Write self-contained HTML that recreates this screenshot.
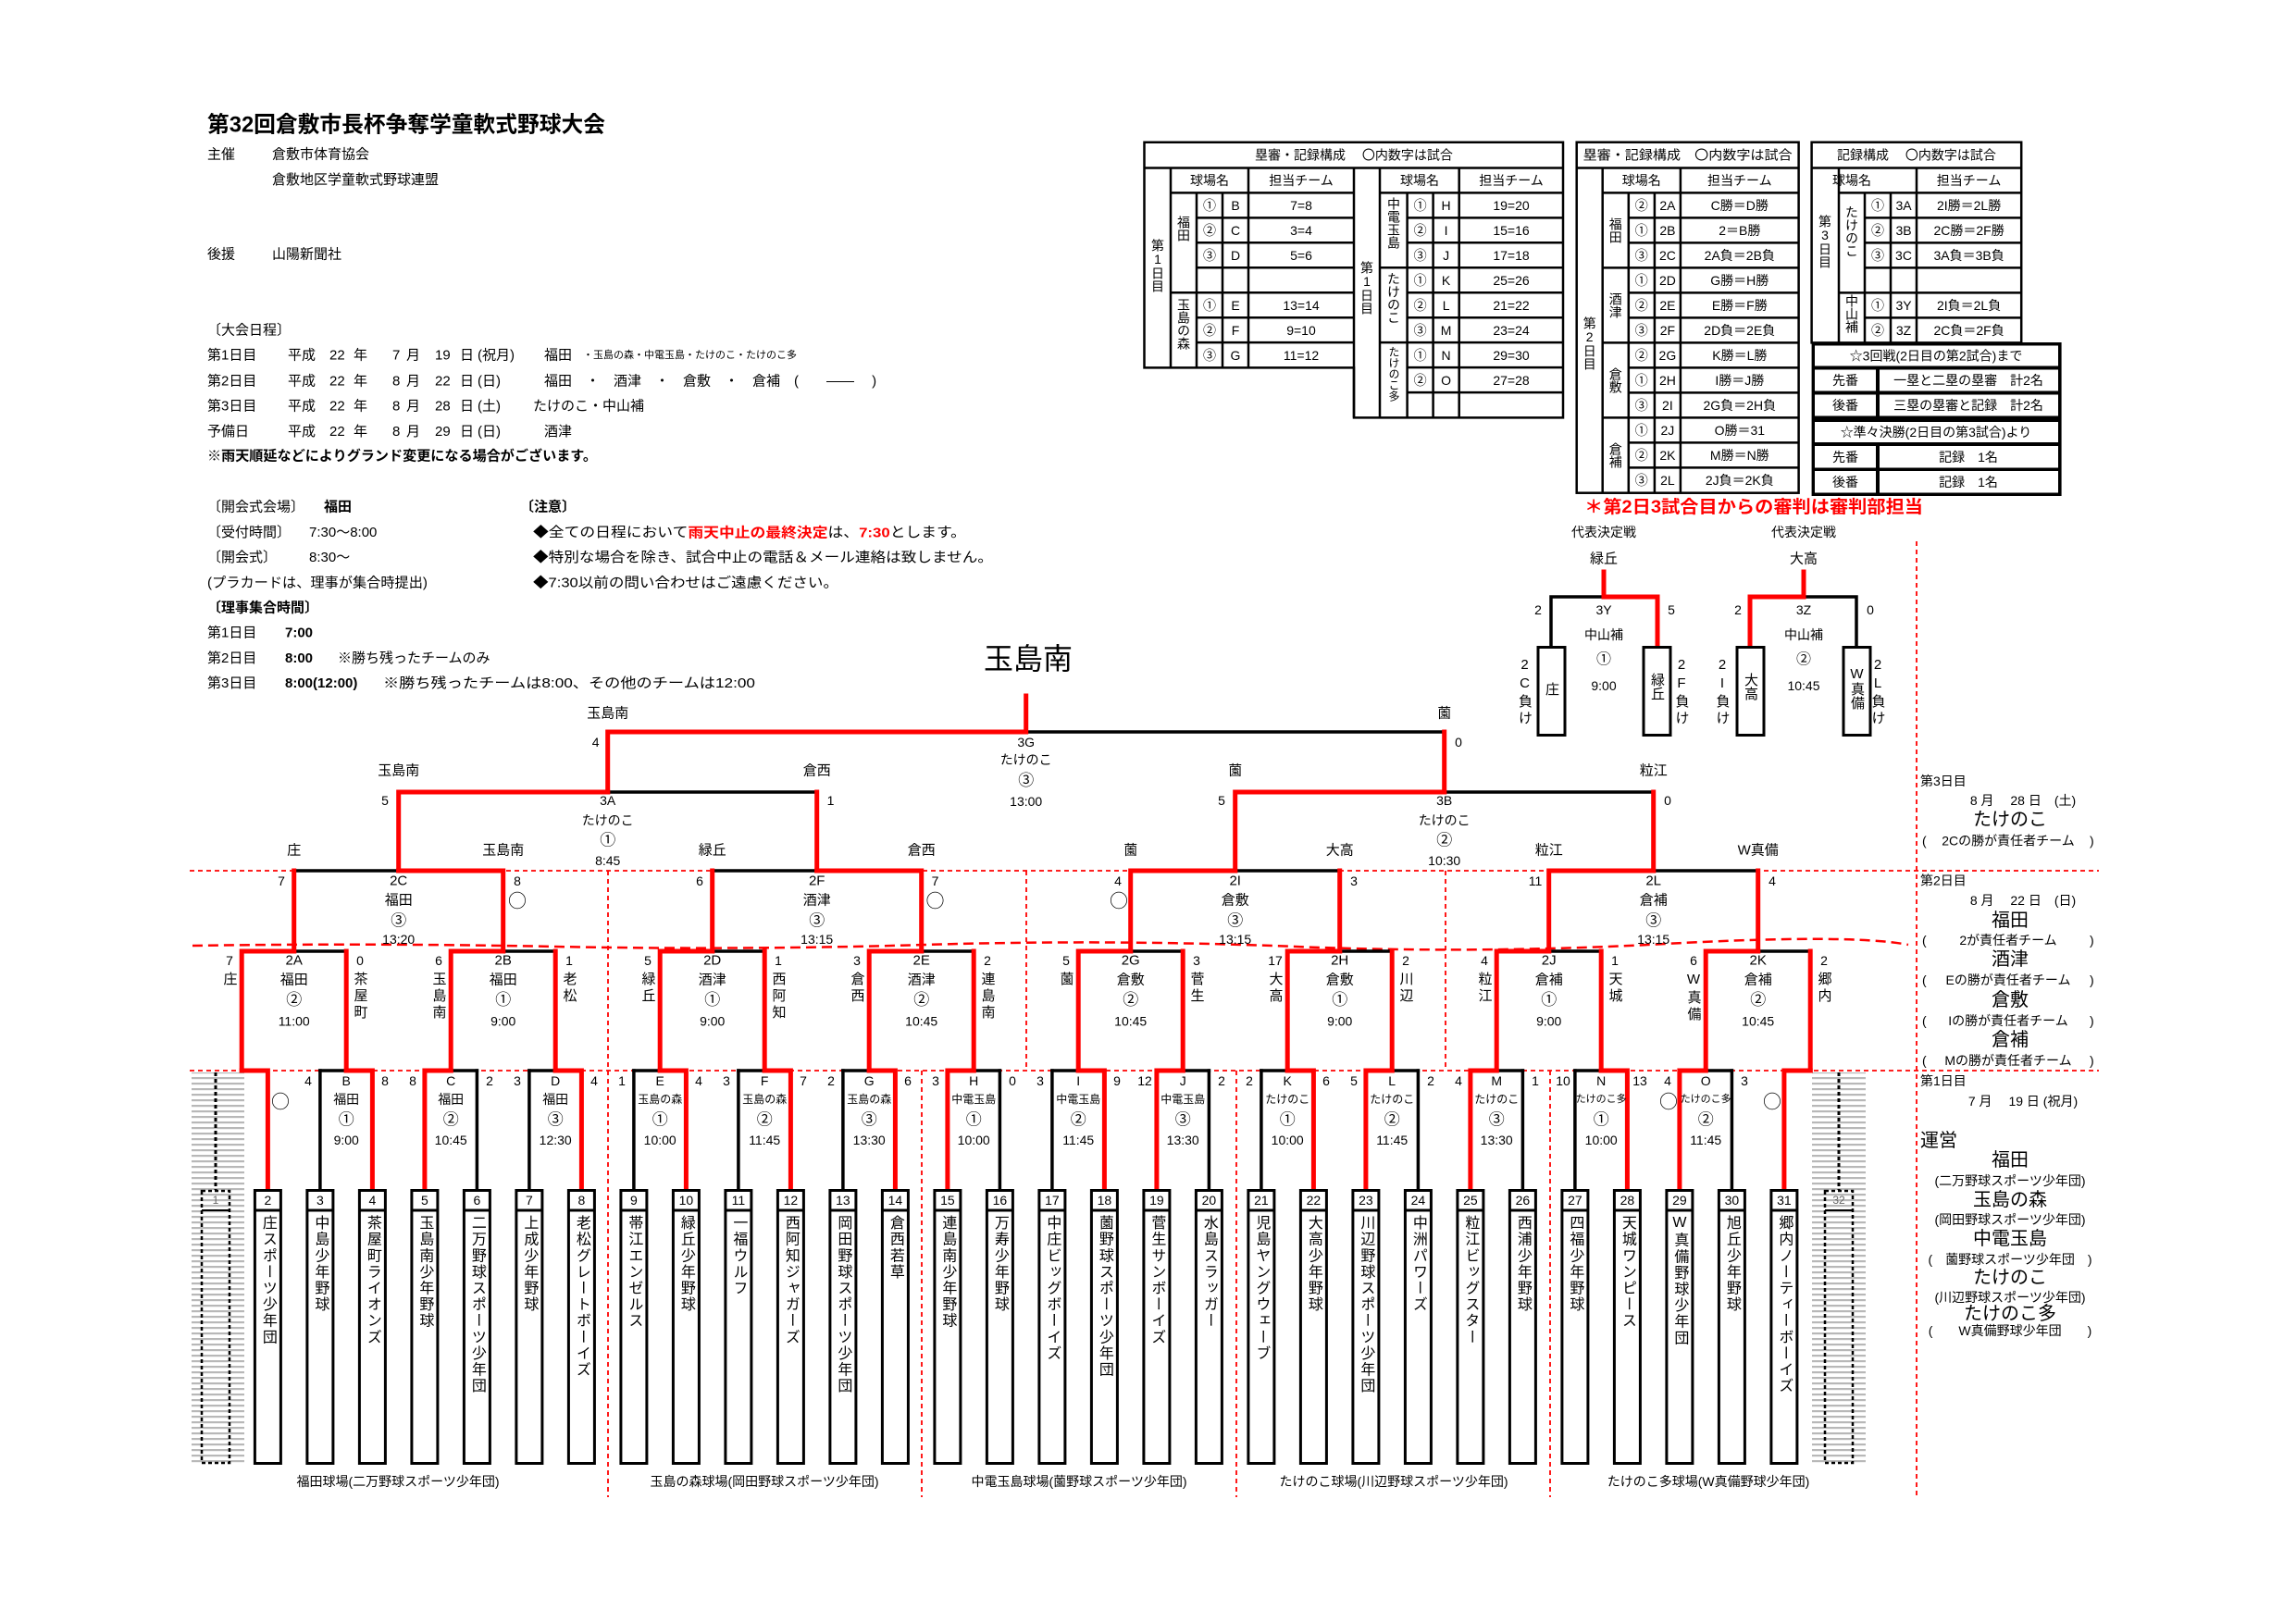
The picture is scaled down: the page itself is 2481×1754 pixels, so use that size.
<!DOCTYPE html>
<html><head><meta charset="utf-8">
<style>
html,body{margin:0;padding:0;background:#fff}
svg{display:block}
text{font-family:"Liberation Sans","Noto Sans CJK JP",sans-serif;fill:#000;dominant-baseline:central}
.c{text-anchor:middle}
.v{writing-mode:vertical-rl;text-orientation:upright}
.o{font-family:"Noto Sans CJK JP",sans-serif}
.bk{stroke:#000;stroke-width:3.5;fill:none;stroke-linecap:square}
.rd{stroke:#f00;stroke-width:5;fill:none;stroke-linecap:square}
.ds{stroke:#f00;stroke-width:1.8;fill:none;stroke-dasharray:5 4}
.tb{stroke:#000;stroke-width:2.5;fill:none}
.bx{stroke:#000;stroke-width:3;fill:#fff}
</style></head><body>
<svg width="2481" height="1754" viewBox="0 0 2481 1754" xmlns="http://www.w3.org/2000/svg">
<defs>
<pattern id="gs" width="8" height="6" patternUnits="userSpaceOnUse"><rect x="0" y="0" width="8" height="2.2" fill="#b8b8b8"/></pattern>
</defs>
<rect width="2481" height="1754" fill="#fff"/>

<!-- Header -->
<text x="224" y="135" font-size="24" font-weight="bold" textLength="430" lengthAdjust="spacingAndGlyphs">第32回倉敷市長杯争奪学童軟式野球大会</text>
<g font-size="15">
<text x="224" y="167">主催</text><text x="294" y="167">倉敷市体育協会</text>
<text x="294" y="194.5">倉敷地区学童軟式野球連盟</text>
<text x="224" y="275">後援</text><text x="294" y="275">山陽新聞社</text>
<text x="224" y="357">〔大会日程〕</text>
<text x="224" y="384">第1日目</text><text x="224" y="412">第2日目</text><text x="224" y="439">第3日目</text><text x="224" y="466.5">予備日</text>
<text x="311" y="384">平成</text><text x="311" y="412">平成</text><text x="311" y="439">平成</text><text x="311" y="466.5">平成</text>
<text x="356" y="384">22</text><text x="356" y="412">22</text><text x="356" y="439">22</text><text x="356" y="466.5">22</text>
<text x="382" y="384">年</text><text x="382" y="412">年</text><text x="382" y="439">年</text><text x="382" y="466.5">年</text>
<text x="424" y="384">7</text><text x="424" y="412">8</text><text x="424" y="439">8</text><text x="424" y="466.5">8</text>
<text x="439" y="384">月</text><text x="439" y="412">月</text><text x="439" y="439">月</text><text x="439" y="466.5">月</text>
<text x="470" y="384">19</text><text x="470" y="412">22</text><text x="470" y="439">28</text><text x="470" y="466.5">29</text>
<text x="497" y="384">日</text><text x="497" y="412">日</text><text x="497" y="439">日</text><text x="497" y="466.5">日</text>
<text x="516" y="384">(祝月)</text><text x="516" y="412">(日)</text><text x="516" y="439">(土)</text><text x="516" y="466.5">(日)</text>
<text x="588" y="384">福田</text><text x="630" y="384" font-size="11">・玉島の森・中電玉島・たけのこ・たけのこ多</text>
<text x="588" y="412">福田　・　酒津　・　倉敷　・　倉補　(　　――　 )</text>
<text x="576" y="439">たけのこ・中山補</text>
<text x="588" y="466.5">酒津</text>
<text x="224" y="493" font-weight="bold" textLength="421" lengthAdjust="spacingAndGlyphs">※雨天順延などによりグランド変更になる場合がございます。</text>
<text x="224" y="548">〔開会式会場〕</text><text x="350" y="548" font-weight="bold">福田</text>
<text x="562" y="548" font-weight="bold">〔注意〕</text>
<text x="224" y="575.5">〔受付時間〕</text><text x="334" y="575.5">7:30〜8:00</text>
<text x="224" y="602.5">〔開会式〕</text><text x="334" y="602.5">8:30〜</text>
<text x="224" y="630" textLength="238" lengthAdjust="spacingAndGlyphs">(プラカードは、理事が集合時提出)</text>
<text x="576" y="575.5" textLength="468" lengthAdjust="spacingAndGlyphs">◆全ての日程において<tspan fill="#f00" font-weight="bold">雨天中止の最終決定</tspan>は、<tspan fill="#f00" font-weight="bold">7:30</tspan>とします。</text>
<text x="576" y="602.5" textLength="497" lengthAdjust="spacingAndGlyphs">◆特別な場合を除き、試合中止の電話＆メール連絡は致しません。</text>
<text x="576" y="630" textLength="330" lengthAdjust="spacingAndGlyphs">◆7:30以前の問い合わせはご遠慮ください。</text>
<text x="224" y="657" font-weight="bold">〔理事集合時間〕</text>
<text x="224" y="684">第1日目</text><text x="308" y="684" font-weight="bold">7:00</text>
<text x="224" y="711.5">第2日目</text><text x="308" y="711.5" font-weight="bold">8:00</text><text x="365" y="711.5">※勝ち残ったチームのみ</text>
<text x="224" y="738.5">第3日目</text><text x="308" y="738.5" font-weight="bold">8:00(12:00)</text><text x="414" y="738.5" textLength="402" lengthAdjust="spacingAndGlyphs">※勝ち残ったチームは8:00、その他のチームは12:00</text>
</g>

<!-- Table 1 -->
<g class="tb">
<path d="M1236.5 153.7H1689V451.4H1463V397.4H1236.5Z"/>
<path d="M1236.5 181.5H1689"/>
<path d="M1265 208.4H1463M1491 208.4H1689"/>
<path d="M1265 181.5V397.4M1293 208.4V397.4M1321 208.4V397.4M1349 181.5V397.4M1463 181.5V451.4"/>
<path d="M1491 181.5V451.4M1520.6 208.4V451.4M1548.6 208.4V451.4M1576.7 181.5V451.4"/>
<path d="M1293 235.4H1463M1293 262.3H1463M1293 289.3H1463M1265 316.2H1463M1293 343.2H1463M1293 370.1H1463"/>
<path d="M1520.6 235.4H1689M1520.6 262.3H1689M1491 289.3H1689M1520.6 316.2H1689M1520.6 343.2H1689M1491 370.1H1689M1520.6 397.1H1689M1520.6 424.1H1689"/>
</g>
<g font-size="14">
<text class="c" x="1463" y="167.6">塁審・記録構成　 〇内数字は試合</text>
<text class="c" x="1307" y="195">球場名</text><text class="c" x="1406" y="195">担当チーム</text>
<text class="c" x="1534" y="195">球場名</text><text class="c" x="1633" y="195">担当チーム</text>
<text class="v" x="1251" y="258">第1日目</text>
<text class="v" x="1477" y="282">第1日目</text>
<text class="v" x="1279" y="233">福田</text>
<text class="v" x="1279" y="322">玉島の森</text>
<text class="v" x="1506" y="213">中電玉島</text>
<text class="v" x="1506" y="294">たけのこ</text>
<text class="v" x="1506" y="374" font-size="12">たけのこ多</text>
<text class="c" x="1307" y="222">①</text><text class="c" x="1335" y="222">B</text><text class="c" x="1406" y="222">7=8</text>
<text class="c" x="1307" y="249">②</text><text class="c" x="1335" y="249">C</text><text class="c" x="1406" y="249">3=4</text>
<text class="c" x="1307" y="276">③</text><text class="c" x="1335" y="276">D</text><text class="c" x="1406" y="276">5=6</text>
<text class="c" x="1307" y="330">①</text><text class="c" x="1335" y="330">E</text><text class="c" x="1406" y="330">13=14</text>
<text class="c" x="1307" y="357">②</text><text class="c" x="1335" y="357">F</text><text class="c" x="1406" y="357">9=10</text>
<text class="c" x="1307" y="384">③</text><text class="c" x="1335" y="384">G</text><text class="c" x="1406" y="384">11=12</text>
<text class="c" x="1534.6" y="222">①</text><text class="c" x="1562.6" y="222">H</text><text class="c" x="1633" y="222">19=20</text>
<text class="c" x="1534.6" y="249">②</text><text class="c" x="1562.6" y="249">I</text><text class="c" x="1633" y="249">15=16</text>
<text class="c" x="1534.6" y="276">③</text><text class="c" x="1562.6" y="276">J</text><text class="c" x="1633" y="276">17=18</text>
<text class="c" x="1534.6" y="303">①</text><text class="c" x="1562.6" y="303">K</text><text class="c" x="1633" y="303">25=26</text>
<text class="c" x="1534.6" y="330">②</text><text class="c" x="1562.6" y="330">L</text><text class="c" x="1633" y="330">21=22</text>
<text class="c" x="1534.6" y="357">③</text><text class="c" x="1562.6" y="357">M</text><text class="c" x="1633" y="357">23=24</text>
<text class="c" x="1534.6" y="384">①</text><text class="c" x="1562.6" y="384">N</text><text class="c" x="1633" y="384">29=30</text>
<text class="c" x="1534.6" y="411">②</text><text class="c" x="1562.6" y="411">O</text><text class="c" x="1633" y="411">27=28</text>
</g>

<!-- Table 2 -->
<g class="tb">
<rect x="1703.7" y="153.7" width="239.9" height="379"/>
<path d="M1703.7 181.5H1943.6M1731.7 208.4H1943.6"/>
<path d="M1731.7 181.5V532.7M1759.8 208.4V532.7M1787.9 208.4V532.7M1815.9 181.5V532.7"/>
<path d="M1759.8 235.4H1943.6M1759.8 262.4H1943.6M1731.7 289.4H1943.6M1759.8 316.4H1943.6M1759.8 343.4H1943.6M1731.7 370.4H1943.6M1759.8 397.4H1943.6M1759.8 424.4H1943.6M1731.7 451.4H1943.6M1759.8 478.4H1943.6M1759.8 505.4H1943.6"/>
</g>
<g font-size="14">
<text class="c" x="1823.6" y="167.6" textLength="226" lengthAdjust="spacingAndGlyphs">塁審・記録構成　〇内数字は試合</text>
<text class="c" x="1773.8" y="195">球場名</text><text class="c" x="1879.8" y="195">担当チーム</text>
<text class="v" x="1717.7" y="342">第2日目</text>
<text class="v" x="1745.7" y="235">福田</text>
<text class="v" x="1745.7" y="316">酒津</text>
<text class="v" x="1745.7" y="397">倉敷</text>
<text class="v" x="1745.7" y="478">倉補</text>
<text class="c" x="1773.8" y="222">②</text><text class="c" x="1801.9" y="222">2A</text><text class="c" x="1879.8" y="222">C勝＝D勝</text>
<text class="c" x="1773.8" y="249">①</text><text class="c" x="1801.9" y="249">2B</text><text class="c" x="1879.8" y="249">2＝B勝</text>
<text class="c" x="1773.8" y="276">③</text><text class="c" x="1801.9" y="276">2C</text><text class="c" x="1879.8" y="276">2A負＝2B負</text>
<text class="c" x="1773.8" y="303">①</text><text class="c" x="1801.9" y="303">2D</text><text class="c" x="1879.8" y="303">G勝＝H勝</text>
<text class="c" x="1773.8" y="330">②</text><text class="c" x="1801.9" y="330">2E</text><text class="c" x="1879.8" y="330">E勝＝F勝</text>
<text class="c" x="1773.8" y="357">③</text><text class="c" x="1801.9" y="357">2F</text><text class="c" x="1879.8" y="357">2D負＝2E負</text>
<text class="c" x="1773.8" y="384">②</text><text class="c" x="1801.9" y="384">2G</text><text class="c" x="1879.8" y="384">K勝＝L勝</text>
<text class="c" x="1773.8" y="411">①</text><text class="c" x="1801.9" y="411">2H</text><text class="c" x="1879.8" y="411">I勝＝J勝</text>
<text class="c" x="1773.8" y="438">③</text><text class="c" x="1801.9" y="438">2I</text><text class="c" x="1879.8" y="438">2G負＝2H負</text>
<text class="c" x="1773.8" y="465">①</text><text class="c" x="1801.9" y="465">2J</text><text class="c" x="1879.8" y="465">O勝＝31</text>
<text class="c" x="1773.8" y="492">②</text><text class="c" x="1801.9" y="492">2K</text><text class="c" x="1879.8" y="492">M勝＝N勝</text>
<text class="c" x="1773.8" y="519">③</text><text class="c" x="1801.9" y="519">2L</text><text class="c" x="1879.8" y="519">2J負＝2K負</text>
</g>

<!-- Table 3 -->
<g class="tb">
<rect x="1957.6" y="153.7" width="226.6" height="216.7"/>
<path d="M1957.6 181.5H2184.2M1987 208.4H2184.2"/>
<path d="M1987 181.5V370.4M2015 208.4V370.4M2043 208.4V370.4M2071 181.5V370.4"/>
<path d="M2015 235.4H2184.2M2015 262.4H2184.2M2015 289.4H2184.2M1987 316.4H2184.2M2015 343.4H2184.2"/>
</g>
<g font-size="14">
<text class="c" x="2071" y="167.6">記録構成　 〇内数字は試合</text>
<text class="c" x="2001" y="195">球場名</text><text class="c" x="2127.6" y="195">担当チーム</text>
<text class="v" x="1972" y="232">第3日目</text>
<text class="v" x="2001" y="222">たけのこ</text>
<text class="v" x="2001" y="318">中山補</text>
<text class="c" x="2029" y="222">①</text><text class="c" x="2057" y="222">3A</text><text class="c" x="2127.6" y="222">2I勝＝2L勝</text>
<text class="c" x="2029" y="249">②</text><text class="c" x="2057" y="249">3B</text><text class="c" x="2127.6" y="249">2C勝＝2F勝</text>
<text class="c" x="2029" y="276">③</text><text class="c" x="2057" y="276">3C</text><text class="c" x="2127.6" y="276">3A負＝3B負</text>
<text class="c" x="2029" y="330">①</text><text class="c" x="2057" y="330">3Y</text><text class="c" x="2127.6" y="330">2I負＝2L負</text>
<text class="c" x="2029" y="357">②</text><text class="c" x="2057" y="357">3Z</text><text class="c" x="2127.6" y="357">2C負＝2F負</text>
</g>

<!-- Box 4 -->
<rect x="1957.6" y="370" width="270" height="166" fill="#000"/>
<g fill="#fff">
<rect x="1961" y="373.5" width="263" height="22"/>
<rect x="1961" y="399.5" width="66" height="23"/><rect x="2031" y="399.5" width="193" height="23"/>
<rect x="1961" y="426.5" width="66" height="23"/><rect x="2031" y="426.5" width="193" height="23"/>
<rect x="1961" y="456" width="263" height="22"/>
<rect x="1961" y="482" width="66" height="23.5"/><rect x="2031" y="482" width="193" height="23.5"/>
<rect x="1961" y="509" width="66" height="23.5"/><rect x="2031" y="509" width="193" height="23.5"/>
</g>
<g font-size="14">
<text class="c" x="2092" y="384.5">☆3回戦(2日目の第2試合)まで</text>
<text class="c" x="1994" y="411">先番</text><text class="c" x="2127" y="411">一塁と二塁の塁審　計2名</text>
<text class="c" x="1994" y="438">後番</text><text class="c" x="2127" y="438">三塁の塁審と記録　計2名</text>
<text class="c" x="2092" y="467">☆準々決勝(2日目の第3試合)より</text>
<text class="c" x="1994" y="494">先番</text><text class="c" x="2127" y="494">記録　1名</text>
<text class="c" x="1994" y="521">後番</text><text class="c" x="2127" y="521">記録　1名</text>
</g>
<text x="1712" y="548.5" font-size="19" font-weight="bold" style="fill:#f00" textLength="366" lengthAdjust="spacingAndGlyphs">＊第2日3試合目からの審判は審判部担当</text>

<!-- 3Y / 3Z -->
<g font-size="14">
<text class="c" x="1733" y="575">代表決定戦</text><text class="c" x="1949" y="575">代表決定戦</text>
<text class="c" x="1733" y="604" font-size="15">緑丘</text><text class="c" x="1949" y="604" font-size="15">大高</text>
</g>
<path class="bk" d="M1676 699V645H1791V699"/>
<path class="rd" d="M1733 618V645H1791V699"/>
<path class="bk" d="M1891 699V645H2006V699"/>
<path class="rd" d="M1949 618V645H1891V699"/>
<rect class="bx" x="1662" y="699.5" width="29" height="95"/>
<rect class="bx" x="1776" y="699.5" width="29" height="95"/>
<rect class="bx" x="1877" y="699.5" width="29" height="95"/>
<rect class="bx" x="1992" y="699.5" width="29" height="95"/>
<g font-size="14">
<text class="c" x="1662" y="659">2</text><text class="c" x="1806" y="659">5</text>
<text class="c" x="1878" y="659">2</text><text class="c" x="2021" y="659">0</text>
<text class="c" x="1733" y="659">3Y</text><text class="c" x="1733" y="686">中山補</text><text class="c" x="1733" y="713" font-size="16">①</text><text class="c" x="1733" y="741">9:00</text>
<text class="c" x="1949" y="659">3Z</text><text class="c" x="1949" y="686">中山補</text><text class="c" x="1949" y="713" font-size="16">②</text><text class="c" x="1949" y="741">10:45</text>
</g>
<g font-size="15">
<text class="v" x="1676.5" y="737">庄</text>
<text class="v" x="1790.5" y="727">緑丘</text>
<text class="v" x="1891.5" y="727">大高</text>
<text class="v" x="2006.5" y="720">W真備</text>
<text class="v" x="1647.5" y="710" letter-spacing="3">2C負け</text>
<text class="v" x="1817" y="710" letter-spacing="3">2F負け</text>
<text class="v" x="1861" y="710" letter-spacing="3">2I負け</text>
<text class="v" x="2029" y="710" letter-spacing="3">2L負け</text>
</g>

<!-- Dashed guides -->
<path class="ds" d="M205 941H2268M205 1157H2268"/>
<path d="M208 1022Q400 1019 600 1023T1000 1021T1400 1023T1800 1020T2062 1021" stroke="#f00" stroke-width="2.5" fill="none" stroke-dasharray="11 6"/>
<path class="ds" d="M657 941V1618M996 1157V1618M1109 941V1157M1336 1157V1618M1562 941V1157M1675 1157V1618M2071 585V1618"/>

<!-- bye zones -->
<rect x="207" y="1159" width="57" height="422" fill="url(#gs)"/>
<rect x="1958" y="1159" width="58" height="422" fill="url(#gs)"/>
<path d="M233 1159V1286M1987 1159V1286" stroke="#000" stroke-width="3" stroke-dasharray="4 3"/>
<rect x="218" y="1287" width="30" height="294" fill="none" stroke="#000" stroke-width="2.5" stroke-dasharray="4 3"/>
<rect x="1972" y="1287" width="30" height="294" fill="none" stroke="#000" stroke-width="2.5" stroke-dasharray="4 3"/>
<path d="M218 1308H248M1972 1308H2002" stroke="#000" stroke-width="2"/>
<text class="c" x="233" y="1297" font-size="12" style="fill:#666">1</text>
<text class="c" x="1987" y="1297" font-size="12" style="fill:#666">32</text>

<!-- Black bracket lines -->
<path class="bk" d="M345.9 1286V1157M515.4 1286V1157M571.9 1286V1157M684.9 1286V1157M797.9 1286V1157M910.9 1286V1157M1080.4 1286V1157M1136.9 1286V1157M1306.4 1286V1157M1362.9 1286V1157M1532.4 1286V1157M1645.4 1286V1157M1701.9 1286V1157M1871.4 1286V1157"/>
<path class="bk" d="M345.9 1157H402.4M458.9 1157H515.4M571.9 1157H628.4M684.9 1157H741.4M797.9 1157H854.4M910.9 1157H967.4M1023.9 1157H1080.4M1136.9 1157H1193.4M1249.9 1157H1306.4M1362.9 1157H1419.4M1475.9 1157H1532.4M1588.9 1157H1645.4M1701.9 1157H1758.4M1814.9 1157H1871.4"/>
<path class="bk" d="M261.2 1028H374.2M487.2 1028H600.2M713.2 1028H826.2M939.2 1028H1052.2M1165.2 1028H1278.2M1391.2 1028H1504.2M1617.2 1028H1730.2M1843.2 1028H1956.2"/>
<path class="bk" d="M317.7 941H543.7M769.7 941H995.7M1221.7 941H1447.7M1673.7 941H1899.7"/>
<path class="bk" d="M430.7 856H882.7M1334.7 856H1786.7"/>
<path class="bk" d="M656.7 791H1560.7"/>

<!-- Red winner lines -->
<path class="rd" d="M289.4 1286V1157H261.2M402.4 1286V1157H374.2M458.9 1286V1157H487.2M628.4 1286V1157H600.2M741.4 1286V1157H713.2M854.4 1286V1157H826.2M967.4 1286V1157H939.2M1023.9 1286V1157H1052.2M1193.4 1286V1157H1165.2M1249.9 1286V1157H1278.2M1419.4 1286V1157H1391.2M1475.9 1286V1157H1504.2M1588.9 1286V1157H1617.2M1758.4 1286V1157H1730.2M1814.9 1286V1157H1843.2M1927.9 1286V1157H1956.2"/>
<path class="rd" d="M261.2 1157V1028H317.7M374.2 1157V1028M487.2 1157V1028H543.7M600.2 1157V1028M713.2 1157V1028H769.7M826.2 1157V1028M939.2 1157V1028H995.7M1052.2 1157V1028M1165.2 1157V1028H1221.7M1278.2 1157V1028M1391.2 1157V1028H1447.7M1504.2 1157V1028M1617.2 1157V1028H1673.7M1730.2 1157V1028M1843.2 1157V1028H1899.7M1956.2 1157V1028"/>
<path class="rd" d="M317.7 1028V941M543.7 1028V941H430.7M769.7 1028V941M995.7 1028V941H882.7M1221.7 1028V941H1334.7M1447.7 1028V941M1673.7 1028V941H1786.7M1899.7 1028V941"/>
<path class="rd" d="M430.7 941V856H656.7M882.7 941V856M1334.7 941V856H1560.7M1786.7 941V856"/>
<path class="rd" d="M656.7 856V791H1108.7V752M1560.7 856V791"/>

<!-- Team boxes -->
<g class="bx" style="stroke-width:3">
<rect x="275.4" y="1286.5" width="28" height="295"/><rect x="331.9" y="1286.5" width="28" height="295"/><rect x="388.4" y="1286.5" width="28" height="295"/><rect x="444.9" y="1286.5" width="28" height="295"/><rect x="501.4" y="1286.5" width="28" height="295"/><rect x="557.9" y="1286.5" width="28" height="295"/><rect x="614.4" y="1286.5" width="28" height="295"/><rect x="670.9" y="1286.5" width="28" height="295"/><rect x="727.4" y="1286.5" width="28" height="295"/><rect x="783.9" y="1286.5" width="28" height="295"/><rect x="840.4" y="1286.5" width="28" height="295"/><rect x="896.9" y="1286.5" width="28" height="295"/><rect x="953.4" y="1286.5" width="28" height="295"/><rect x="1009.9" y="1286.5" width="28" height="295"/><rect x="1066.4" y="1286.5" width="28" height="295"/>
<rect x="1122.9" y="1286.5" width="28" height="295"/><rect x="1179.4" y="1286.5" width="28" height="295"/><rect x="1235.9" y="1286.5" width="28" height="295"/><rect x="1292.4" y="1286.5" width="28" height="295"/><rect x="1348.9" y="1286.5" width="28" height="295"/><rect x="1405.4" y="1286.5" width="28" height="295"/><rect x="1461.9" y="1286.5" width="28" height="295"/><rect x="1518.4" y="1286.5" width="28" height="295"/><rect x="1574.9" y="1286.5" width="28" height="295"/><rect x="1631.4" y="1286.5" width="28" height="295"/><rect x="1687.9" y="1286.5" width="28" height="295"/><rect x="1744.4" y="1286.5" width="28" height="295"/><rect x="1800.9" y="1286.5" width="28" height="295"/><rect x="1857.4" y="1286.5" width="28" height="295"/><rect x="1913.9" y="1286.5" width="28" height="295"/>
</g>
<path d="M275.4 1308H1941.9" stroke="#000" stroke-width="3" stroke-dasharray="28 28.5"/>
<g font-size="14">
<text class="c" x="289.4" y="1297">2</text><text class="c" x="345.9" y="1297">3</text><text class="c" x="402.4" y="1297">4</text><text class="c" x="458.9" y="1297">5</text><text class="c" x="515.4" y="1297">6</text><text class="c" x="571.9" y="1297">7</text><text class="c" x="628.4" y="1297">8</text><text class="c" x="684.9" y="1297">9</text><text class="c" x="741.4" y="1297">10</text><text class="c" x="797.9" y="1297">11</text><text class="c" x="854.4" y="1297">12</text><text class="c" x="910.9" y="1297">13</text><text class="c" x="967.4" y="1297">14</text><text class="c" x="1023.9" y="1297">15</text><text class="c" x="1080.4" y="1297">16</text>
<text class="c" x="1136.9" y="1297">17</text><text class="c" x="1193.4" y="1297">18</text><text class="c" x="1249.9" y="1297">19</text><text class="c" x="1306.4" y="1297">20</text><text class="c" x="1362.9" y="1297">21</text><text class="c" x="1419.4" y="1297">22</text><text class="c" x="1475.9" y="1297">23</text><text class="c" x="1532.4" y="1297">24</text><text class="c" x="1588.9" y="1297">25</text><text class="c" x="1645.4" y="1297">26</text><text class="c" x="1701.9" y="1297">27</text><text class="c" x="1758.4" y="1297">28</text><text class="c" x="1814.9" y="1297">29</text><text class="c" x="1871.4" y="1297">30</text><text class="c" x="1927.9" y="1297">31</text>
</g>
<g font-size="16" letter-spacing="1.6">
<text class="v" x="289.4" y="1313">庄スポーツ少年団</text>
<text class="v" x="345.9" y="1313">中島少年野球</text>
<text class="v" x="402.4" y="1313">茶屋町ライオンズ</text>
<text class="v" x="458.9" y="1313">玉島南少年野球</text>
<text class="v" x="515.4" y="1313">二万野球スポーツ少年団</text>
<text class="v" x="571.9" y="1313">上成少年野球</text>
<text class="v" x="628.4" y="1313">老松グレートボーイズ</text>
<text class="v" x="684.9" y="1313">帯江エンゼルス</text>
<text class="v" x="741.4" y="1313">緑丘少年野球</text>
<text class="v" x="797.9" y="1313">一福ウルフ</text>
<text class="v" x="854.4" y="1313">西阿知ジャガーズ</text>
<text class="v" x="910.9" y="1313">岡田野球スポーツ少年団</text>
<text class="v" x="967.4" y="1313">倉西若草</text>
<text class="v" x="1023.9" y="1313">連島南少年野球</text>
<text class="v" x="1080.4" y="1313">万寿少年野球</text>
<text class="v" x="1136.9" y="1313">中庄ビッグボーイズ</text>
<text class="v" x="1193.4" y="1313">薗野球スポーツ少年団</text>
<text class="v" x="1249.9" y="1313">菅生サンボーイズ</text>
<text class="v" x="1306.4" y="1313">水島スラッガー</text>
<text class="v" x="1362.9" y="1313">児島ヤングウェーブ</text>
<text class="v" x="1419.4" y="1313">大高少年野球</text>
<text class="v" x="1475.9" y="1313">川辺野球スポーツ少年団</text>
<text class="v" x="1532.4" y="1313">中洲パワーズ</text>
<text class="v" x="1588.9" y="1313">粒江ビッグスター</text>
<text class="v" x="1645.4" y="1313">西浦少年野球</text>
<text class="v" x="1701.9" y="1313">四福少年野球</text>
<text class="v" x="1758.4" y="1313">天城ワンピース</text>
<text class="v" x="1814.9" y="1313">W真備野球少年団</text>
<text class="v" x="1871.4" y="1313">旭丘少年野球</text>
<text class="v" x="1927.9" y="1313">郷内ノーティーボーイズ</text>
</g>

<!-- R1 labels -->
<g font-size="14">
<text class="c" x="374.2" y="1168">B</text><text class="c" x="487.2" y="1168">C</text><text class="c" x="600.2" y="1168">D</text><text class="c" x="713.2" y="1168">E</text><text class="c" x="826.2" y="1168">F</text><text class="c" x="939.2" y="1168">G</text><text class="c" x="1052.2" y="1168">H</text><text class="c" x="1165.2" y="1168">I</text><text class="c" x="1278.2" y="1168">J</text><text class="c" x="1391.2" y="1168">K</text><text class="c" x="1504.2" y="1168">L</text><text class="c" x="1617.2" y="1168">M</text><text class="c" x="1730.2" y="1168">N</text><text class="c" x="1843.2" y="1168">O</text>
<text class="c" x="374.2" y="1232">9:00</text><text class="c" x="487.2" y="1232">10:45</text><text class="c" x="600.2" y="1232">12:30</text><text class="c" x="713.2" y="1232">10:00</text><text class="c" x="826.2" y="1232">11:45</text><text class="c" x="939.2" y="1232">13:30</text><text class="c" x="1052.2" y="1232">10:00</text><text class="c" x="1165.2" y="1232">11:45</text><text class="c" x="1278.2" y="1232">13:30</text><text class="c" x="1391.2" y="1232">10:00</text><text class="c" x="1504.2" y="1232">11:45</text><text class="c" x="1617.2" y="1232">13:30</text><text class="c" x="1730.2" y="1232">10:00</text><text class="c" x="1843.2" y="1232">11:45</text>
<text class="c" x="333" y="1168">4</text><text class="c" x="416" y="1168">8</text>
<text class="c" x="446" y="1168">8</text><text class="c" x="529" y="1168">2</text>
<text class="c" x="559" y="1168">3</text><text class="c" x="642" y="1168">4</text>
<text class="c" x="672" y="1168">1</text><text class="c" x="755" y="1168">4</text>
<text class="c" x="785" y="1168">3</text><text class="c" x="868" y="1168">7</text>
<text class="c" x="898" y="1168">2</text><text class="c" x="981" y="1168">6</text>
<text class="c" x="1011" y="1168">3</text><text class="c" x="1094" y="1168">0</text>
<text class="c" x="1124" y="1168">3</text><text class="c" x="1207" y="1168">9</text>
<text class="c" x="1237" y="1168">12</text><text class="c" x="1320" y="1168">2</text>
<text class="c" x="1350" y="1168">2</text><text class="c" x="1433" y="1168">6</text>
<text class="c" x="1463" y="1168">5</text><text class="c" x="1546" y="1168">2</text>
<text class="c" x="1576" y="1168">4</text><text class="c" x="1659" y="1168">1</text>
<text class="c" x="1689" y="1168">10</text><text class="c" x="1772" y="1168">13</text>
<text class="c" x="1802" y="1168">4</text><text class="c" x="1885" y="1168">3</text>
</g>
<g font-size="12">
<text class="c" x="374.2" y="1188" font-size="14">福田</text><text class="c" x="487.2" y="1188" font-size="14">福田</text><text class="c" x="600.2" y="1188" font-size="14">福田</text>
<text class="c" x="713.2" y="1188">玉島の森</text><text class="c" x="826.2" y="1188">玉島の森</text><text class="c" x="939.2" y="1188">玉島の森</text>
<text class="c" x="1052.2" y="1188">中電玉島</text><text class="c" x="1165.2" y="1188">中電玉島</text><text class="c" x="1278.2" y="1188">中電玉島</text>
<text class="c" x="1391.2" y="1188">たけのこ</text><text class="c" x="1504.2" y="1188">たけのこ</text><text class="c" x="1617.2" y="1188">たけのこ</text>
<text class="c" x="1730.2" y="1188" font-size="11">たけのこ多</text><text class="c" x="1843.2" y="1188" font-size="11">たけのこ多</text>
</g>
<g font-size="17">
<text class="c" x="374.2" y="1210">①</text><text class="c" x="487.2" y="1210">②</text><text class="c" x="600.2" y="1210">③</text><text class="c" x="713.2" y="1210">①</text><text class="c" x="826.2" y="1210">②</text><text class="c" x="939.2" y="1210">③</text><text class="c" x="1052.2" y="1210">①</text><text class="c" x="1165.2" y="1210">②</text><text class="c" x="1278.2" y="1210">③</text><text class="c" x="1391.2" y="1210">①</text><text class="c" x="1504.2" y="1210">②</text><text class="c" x="1617.2" y="1210">③</text><text class="c" x="1730.2" y="1210">①</text><text class="c" x="1843.2" y="1210">②</text>
</g>
<g font-size="20">
<text class="c o" x="303" y="1189">○</text><text class="c o" x="1803" y="1189">○</text><text class="c o" x="1915" y="1189">○</text>
<text class="c o" x="559" y="972">○</text><text class="c o" x="1010.5" y="972">○</text><text class="c o" x="1209" y="972">○</text>
</g>

<!-- R2 labels -->
<g font-size="15">
<text class="c" x="317.7" y="1038">2A</text><text class="c" x="543.7" y="1038">2B</text><text class="c" x="769.7" y="1038">2D</text><text class="c" x="995.7" y="1038">2E</text><text class="c" x="1221.7" y="1038">2G</text><text class="c" x="1447.7" y="1038">2H</text><text class="c" x="1673.7" y="1038">2J</text><text class="c" x="1899.7" y="1038">2K</text>
<text class="c" x="317.7" y="1059">福田</text><text class="c" x="543.7" y="1059">福田</text><text class="c" x="769.7" y="1059">酒津</text><text class="c" x="995.7" y="1059">酒津</text><text class="c" x="1221.7" y="1059">倉敷</text><text class="c" x="1447.7" y="1059">倉敷</text><text class="c" x="1673.7" y="1059">倉補</text><text class="c" x="1899.7" y="1059">倉補</text>
<text class="c" x="317.7" y="1080.5" font-size="17">②</text><text class="c" x="543.7" y="1080.5" font-size="17">①</text><text class="c" x="769.7" y="1080.5" font-size="17">①</text><text class="c" x="995.7" y="1080.5" font-size="17">②</text><text class="c" x="1221.7" y="1080.5" font-size="17">②</text><text class="c" x="1447.7" y="1080.5" font-size="17">①</text><text class="c" x="1673.7" y="1080.5" font-size="17">①</text><text class="c" x="1899.7" y="1080.5" font-size="17">②</text>
<text class="c" x="317.7" y="1103.5" font-size="14">11:00</text><text class="c" x="543.7" y="1103.5" font-size="14">9:00</text><text class="c" x="769.7" y="1103.5" font-size="14">9:00</text><text class="c" x="995.7" y="1103.5" font-size="14">10:45</text><text class="c" x="1221.7" y="1103.5" font-size="14">10:45</text><text class="c" x="1447.7" y="1103.5" font-size="14">9:00</text><text class="c" x="1673.7" y="1103.5" font-size="14">9:00</text><text class="c" x="1899.7" y="1103.5" font-size="14">10:45</text>
</g>
<g font-size="14">
<text class="c" x="248" y="1038">7</text><text class="c" x="389" y="1038">0</text>
<text class="c" x="474" y="1038">6</text><text class="c" x="615" y="1038">1</text>
<text class="c" x="700" y="1038">5</text><text class="c" x="841" y="1038">1</text>
<text class="c" x="926" y="1038">3</text><text class="c" x="1067" y="1038">2</text>
<text class="c" x="1152" y="1038">5</text><text class="c" x="1293" y="1038">3</text>
<text class="c" x="1378" y="1038">17</text><text class="c" x="1519" y="1038">2</text>
<text class="c" x="1604" y="1038">4</text><text class="c" x="1745" y="1038">1</text>
<text class="c" x="1830" y="1038">6</text><text class="c" x="1971" y="1038">2</text>
</g>
<g font-size="15" letter-spacing="3">
<text class="v" x="248" y="1050">庄</text><text class="v" x="389" y="1050">茶屋町</text>
<text class="v" x="474" y="1050">玉島南</text><text class="v" x="615" y="1050">老松</text>
<text class="v" x="700" y="1050">緑丘</text><text class="v" x="841" y="1050">西阿知</text>
<text class="v" x="926" y="1050">倉西</text><text class="v" x="1067" y="1050">連島南</text>
<text class="v" x="1152" y="1050">薗</text><text class="v" x="1293" y="1050">菅生</text>
<text class="v" x="1378" y="1050">大高</text><text class="v" x="1519" y="1050">川辺</text>
<text class="v" x="1604" y="1050">粒江</text><text class="v" x="1745" y="1050">天城</text>
<text class="v" x="1830" y="1050">W真備</text><text class="v" x="1971" y="1050">郷内</text>
</g>

<!-- R3 labels -->
<g font-size="15">
<text class="c" x="430.7" y="952">2C</text><text class="c" x="882.7" y="952">2F</text><text class="c" x="1334.7" y="952">2I</text><text class="c" x="1786.7" y="952">2L</text>
<text class="c" x="430.7" y="973">福田</text><text class="c" x="882.7" y="973">酒津</text><text class="c" x="1334.7" y="973">倉敷</text><text class="c" x="1786.7" y="973">倉補</text>
<text class="c" x="430.7" y="995" font-size="17">③</text><text class="c" x="882.7" y="995" font-size="17">③</text><text class="c" x="1334.7" y="995" font-size="17">③</text><text class="c" x="1786.7" y="995" font-size="17">③</text>
<text class="c" x="430.7" y="1015" font-size="14">13:20</text><text class="c" x="882.7" y="1015" font-size="14">13:15</text><text class="c" x="1334.7" y="1015" font-size="14">13:15</text><text class="c" x="1786.7" y="1015" font-size="14">13:15</text>
</g>
<g font-size="14">
<text class="c" x="304" y="952">7</text><text class="c" x="559" y="952">8</text>
<text class="c" x="756" y="952">6</text><text class="c" x="1010.5" y="952">7</text>
<text class="c" x="1208" y="952">4</text><text class="c" x="1463" y="952">3</text>
<text class="c" x="1659" y="952">11</text><text class="c" x="1915" y="952">4</text>
</g>
<g font-size="15">
<text class="c" x="317.7" y="919">庄</text><text class="c" x="543.7" y="919">玉島南</text><text class="c" x="769.7" y="919">緑丘</text><text class="c" x="995.7" y="919">倉西</text>
<text class="c" x="1221.7" y="919">薗</text><text class="c" x="1447.7" y="919">大高</text><text class="c" x="1673.7" y="919">粒江</text><text class="c" x="1899.7" y="919">W真備</text>
<text class="c" x="430.7" y="833">玉島南</text><text class="c" x="882.7" y="833">倉西</text><text class="c" x="1334.7" y="833">薗</text><text class="c" x="1786.7" y="833">粒江</text>
<text class="c" x="656.7" y="771">玉島南</text><text class="c" x="1560.7" y="771">薗</text>
</g>
<!-- R4 + final labels -->
<g font-size="14">
<text class="c" x="656.7" y="865">3A</text><text class="c" x="656.7" y="886.6">たけのこ</text><text class="c" x="656.7" y="908" font-size="17">①</text><text class="c" x="656.7" y="930">8:45</text>
<text class="c" x="1560.7" y="865">3B</text><text class="c" x="1560.7" y="886.6">たけのこ</text><text class="c" x="1560.7" y="908" font-size="17">②</text><text class="c" x="1560.7" y="930">10:30</text>
<text class="c" x="416" y="865">5</text><text class="c" x="897.5" y="865">1</text>
<text class="c" x="1320" y="865">5</text><text class="c" x="1802" y="865">0</text>
<text class="c" x="1108.7" y="802">3G</text><text class="c" x="1108.7" y="821">たけのこ</text><text class="c" x="1108.7" y="843.6" font-size="17">③</text><text class="c" x="1108.7" y="866">13:00</text>
<text class="c" x="643.7" y="802">4</text><text class="c" x="1576" y="802">0</text>
</g>
<text class="c" x="1111" y="712" font-size="32">玉島南</text>

<!-- Venue labels -->
<g font-size="14">
<text class="c" x="430" y="1601">福田球場(二万野球スポーツ少年団)</text>
<text class="c" x="826" y="1601">玉島の森球場(岡田野球スポーツ少年団)</text>
<text class="c" x="1166" y="1601">中電玉島球場(薗野球スポーツ少年団)</text>
<text class="c" x="1506" y="1601">たけのこ球場(川辺野球スポーツ少年団)</text>
<text class="c" x="1846" y="1601">たけのこ多球場(W真備野球少年団)</text>
</g>

<!-- Right legend -->
<g font-size="14">
<text x="2075" y="844">第3日目</text>
<text class="c" x="2186" y="865">8 月　 28 日　(土)</text>
<text class="c" x="2172" y="886" font-size="20">たけのこ</text>
<text x="2077" y="908.5">(</text><text class="c" x="2170" y="908.5">2Cの勝が責任者チーム</text><text x="2258" y="908.5">)</text>
<text x="2075" y="951.5">第2日目</text>
<text class="c" x="2186" y="973">8 月　 22 日　(日)</text>
<text class="c" x="2172" y="995" font-size="20">福田</text>
<text x="2077" y="1016">(</text><text class="c" x="2170" y="1016">2が責任者チーム</text><text x="2258" y="1016">)</text>
<text class="c" x="2172" y="1037" font-size="20">酒津</text>
<text x="2077" y="1059">(</text><text class="c" x="2170" y="1059">Eの勝が責任者チーム</text><text x="2258" y="1059">)</text>
<text class="c" x="2172" y="1081" font-size="20">倉敷</text>
<text x="2077" y="1103">(</text><text class="c" x="2170" y="1103">Iの勝が責任者チーム</text><text x="2258" y="1103">)</text>
<text class="c" x="2172" y="1124" font-size="20">倉補</text>
<text x="2077" y="1146">(</text><text class="c" x="2170" y="1146">Mの勝が責任者チーム</text><text x="2258" y="1146">)</text>
<text x="2075" y="1168">第1日目</text>
<text class="c" x="2186" y="1190">7 月　 19 日 (祝月)</text>
<text x="2075" y="1233" font-size="20">運営</text>
<text class="c" x="2172" y="1254" font-size="20">福田</text>
<text class="c" x="2172" y="1276">(二万野球スポーツ少年団)</text>
<text class="c" x="2172" y="1297" font-size="20">玉島の森</text>
<text class="c" x="2172" y="1318">(岡田野球スポーツ少年団)</text>
<text class="c" x="2172" y="1339" font-size="20">中電玉島</text>
<text class="c" x="2172" y="1361">(　薗野球スポーツ少年団　)</text>
<text class="c" x="2172" y="1381" font-size="20">たけのこ</text>
<text class="c" x="2172" y="1402">(川辺野球スポーツ少年団)</text>
<text class="c" x="2172" y="1420" font-size="20">たけのこ多</text>
<text class="c" x="2172" y="1438">(　　W真備野球少年団　　)</text>
</g>
</svg>
</body></html>
